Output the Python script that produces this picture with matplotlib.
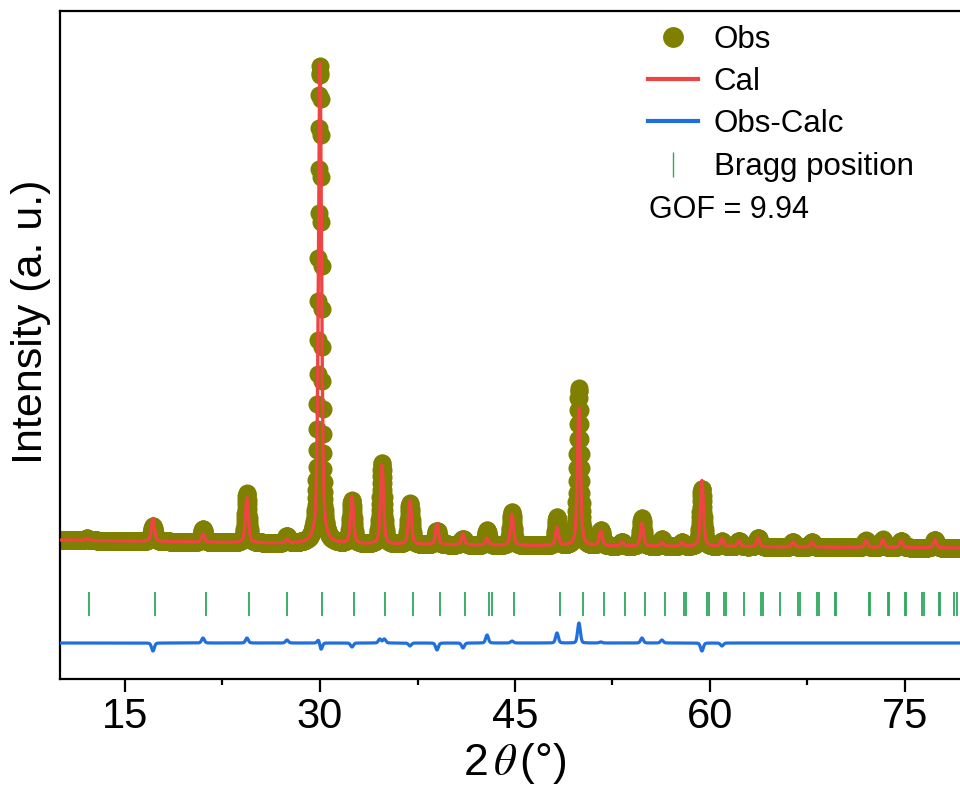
import numpy as np
import matplotlib
matplotlib.use('Agg')
import matplotlib.pyplot as plt
from matplotlib.lines import Line2D

plt.rcParams['font.family'] = ['Liberation Sans', 'DejaVu Sans']
plt.rcParams['mathtext.fontset'] = 'stix'

# reflections seen in the pattern: 2theta and calculated height (a.u.)
peak_pos = [12.08, 17.15, 21.0, 24.38, 27.46, 30.0, 32.46, 34.77, 36.92, 39.0,
            41.0, 42.85, 44.77, 48.23, 49.92, 51.6, 53.23, 54.77, 56.3, 57.85,
            59.38, 60.92, 62.23, 63.7, 66.38, 67.85, 72.0, 73.3, 74.7, 77.3]
peak_cal = [2, 23, 8, 45, 4, 481, 47, 79, 44, 21,
            11, 7, 31, 18, 138, 15, 4, 23, 4, 4,
            66, 8, 6, 9, 5, 5, 7, 8, 7, 8]

# obs - calc residual features
diff_pos = [17.15, 21.0, 24.38, 27.46, 29.92, 30.06, 32.46, 34.6, 34.95, 36.92,
            39.0, 41.0, 42.85, 44.77, 48.23, 49.92, 51.6, 54.77, 56.3, 59.38, 60.92]
diff_amp = [-8, 5, 5, 3, 5, -8, -4, 4, 4, -3,
            -7, -5, 8, 2, 10, 20, 1, 5, 3, -8, -3]

# background level
bg_x = [10, 30, 50, 80]
bg_y = [139, 135, 133, 131]

bragg_pos = [12.22, 17.31, 21.25, 24.56, 27.49, 30.19, 32.58, 34.97, 37.13, 39.21,
             41.14, 43.0, 43.22, 44.92, 48.46, 50.23, 51.85, 53.47, 55.02, 56.56,
             58.02, 58.18, 59.77, 59.92, 61.1, 61.2, 62.6, 63.9, 64.04, 65.42,
             66.8, 66.9, 68.2, 68.35, 69.6, 69.7, 72.2, 72.3, 73.7, 73.75,
             74.98, 75.06, 76.3, 76.45, 77.6, 77.7, 78.8, 79.0]

gof = 9.94
diff_zero = 36
bragg_lo, bragg_hi = 63, 87
fwhm = 0.28

tth = np.arange(10, 80.001, 0.02)


def pvoigt(x, pos, amp, w, eta):
    y = np.zeros_like(x)
    for p, a in zip(pos, amp):
        u = (x - p) / w
        y += a * ((1 - eta) * np.exp(-4 * np.log(2) * u ** 2) + eta / (1 + 4 * u ** 2))
    return y


bg = np.interp(tth, bg_x, bg_y)
cal = bg + pvoigt(tth, peak_pos, peak_cal, fwhm, 0.5)
diff = pvoigt(tth, diff_pos, diff_amp, 0.25, 0.2)
obs = cal + diff

fig = plt.figure(figsize=(9.6, 7.91), dpi=100)
ax = fig.add_axes([60 / 960, 112 / 791, 910 / 960, 668 / 791])

olive = '#7f7f00'
red = '#ee4444'
blue = '#1f6fdf'
green = '#2ea85e'

ax.plot(tth, obs, 'o', color=olive, markersize=13, markeredgewidth=0, zorder=2)
ax.plot(tth, cal, color=red, lw=2.4, zorder=3)
ax.plot(tth, diff_zero + diff, color=blue, lw=2.3, zorder=3)
ax.vlines(bragg_pos, bragg_lo, bragg_hi, color=green, lw=1.3, zorder=3)

ax.set_xlim(10, 80)
ax.set_ylim(0, 668)
ax.set_xticks([15, 30, 45, 60, 75])
ax.set_xticks([22.5, 37.5, 52.5, 67.5], minor=True)
ax.set_yticks([])
ax.tick_params(axis='x', which='major', length=9, width=1.6, labelsize=30, pad=4)
ax.tick_params(axis='x', which='minor', length=4.5, width=1.6)
for s in ax.spines.values():
    s.set_linewidth(1.6)

ax.set_xlabel('2$\\,\\theta\\,$(°)', fontsize=32, labelpad=3)
ax.set_ylabel('Intensity (a. u.)', fontsize=31, labelpad=6.5)
ax.yaxis.label.set_y(0.534)

handles = [
    Line2D([], [], marker='o', ls='none', color=olive, markersize=15, markeredgewidth=0),
    Line2D([], [], color=red, lw=3),
    Line2D([], [], color=blue, lw=3),
    Line2D([], [], marker='|', ls='none', color=green, markersize=18, markeredgewidth=1),
]
labels = ['Obs', 'Cal', 'Obs-Calc', 'Bragg position']
ax.legend(handles, labels, loc='upper left', bbox_to_anchor=(648 / 960, 1 - 25 / 791),
          bbox_transform=fig.transFigure, frameon=False, fontsize=22.5,
          handlelength=1.6, handletextpad=0.5, labelspacing=0.39,
          borderpad=0, borderaxespad=0)
fig.text(649 / 960, 1 - 210 / 791, 'GOF = %.2f' % gof, fontsize=22, va='center')

fig.savefig('out.png', dpi=100)
